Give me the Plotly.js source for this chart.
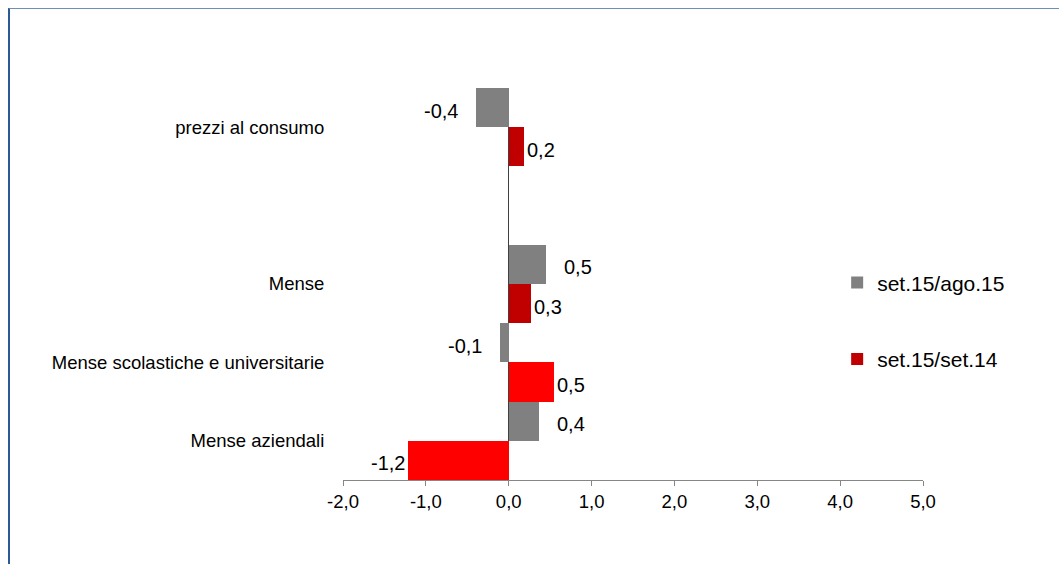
<!DOCTYPE html>
<html>
<head>
<meta charset="utf-8">
<script src="https://cdn.plot.ly/plotly-3.0.1.min.js"></script>
<style>
  html, body { margin: 0; padding: 0; background: #ffffff; }
  #wrap { position: relative; width: 1059px; height: 564px; }
  #chart { width: 1059px; height: 564px; }
  #frame { position: absolute; left: 8px; top: 8px; width: 1051px; height: 556px;
           border-top: 1px solid #6E8FB8; border-left: 2px solid #2B5A96;
           box-sizing: border-box; pointer-events: none; }
</style>
</head>
<body>
<div id="wrap">
  <div id="chart"></div>
  <div id="frame"></div>
</div>
<script>
// ---- data ----
const categories = ["prezzi al consumo", "", "Mense", "Mense scolastiche e universitarie", "Mense aziendali"];
const seriesNames = ["set.15/ago.15", "set.15/set.14"];
const valuesAgo = [-0.40, null, 0.45, -0.10, 0.36];
const valuesSet = [0.19, null, 0.27, 0.55, -1.21];
const labelsAgo = ["-0,4", "", "0,5", "-0,1", "0,4"];
const labelsSet = ["0,2", "", "0,3", "0,5", "-1,2"];
const xTickVals = [-2, -1, 0, 1, 2, 3, 4, 5];
const xTickText = ["-2,0", "-1,0", "0,0", "1,0", "2,0", "3,0", "4,0", "5,0"];

// ---- styles ----
const grayColor = "#808080";
const setColors = ["#C00000", "#C00000", "#C00000", "#FF0000", "#FF0000"];
const FONT = "Liberation Sans, Arial, Helvetica, sans-serif";

const yIdx = categories.map((_, i) => i);

const traces = [
  {
    type: "bar", orientation: "h", name: seriesNames[0],
    x: valuesAgo, y: yIdx,
    marker: { color: grayColor },
    legendgroup: "a", hoverinfo: "skip"
  },
  {
    type: "bar", orientation: "h", name: seriesNames[1],
    x: valuesSet, y: yIdx,
    marker: { color: setColors },
    legendgroup: "b", hoverinfo: "skip"
  }
];

// data labels derived from the arrays
const annotations = [];
function addLabels(vals, labels, yOff, shift) {
  vals.forEach((v, i) => {
    if (v === null) return;
    annotations.push({
      x: v, y: i + yOff, xref: "x", yref: "y",
      text: labels[i], showarrow: false,
      xanchor: v < 0 ? "right" : "left",
      xshift: v < 0 ? -shift : shift,
      yshift: -3,
      font: { family: FONT, size: 20, color: "#000000" }
    });
  });
}
addLabels(valuesAgo, labelsAgo, -0.25, 16);
addLabels(valuesSet, labelsSet, 0.25, 1);

const layout = {
  width: 1059, height: 564,
  margin: { l: 343, r: 136, t: 88, b: 84, pad: 0 },
  paper_bgcolor: "#ffffff", plot_bgcolor: "#ffffff",
  separators: ",.",
  barmode: "group", bargap: 0, bargroupgap: 0,
  font: { family: FONT, size: 18, color: "#000000" },
  showlegend: true,
  legend: {
    x: 0.852, xanchor: "left", y: 0.555, yanchor: "top",
    traceorder: "grouped", tracegroupgap: 46,
    font: { family: FONT, size: 21, color: "#000000" },
    bgcolor: "rgba(0,0,0,0)", borderwidth: 0
  },
  xaxis: {
    range: [-2, 5], tickvals: xTickVals, ticktext: xTickText,
    showgrid: false, zeroline: true, zerolinecolor: "#404040", zerolinewidth: 1,
    showline: true, linecolor: "#868686", linewidth: 1,
    ticks: "outside", ticklen: 5, tickcolor: "#868686",
    tickfont: { family: FONT, size: 18.5, color: "#000000" },
    fixedrange: true
  },
  yaxis: {
    range: [4.5, -0.5], tickvals: yIdx, ticktext: categories,
    showgrid: false, zeroline: false, showline: false,
    ticks: "outside", ticklen: 14, tickcolor: "rgba(0,0,0,0)",
    tickfont: { family: FONT, size: 18.5, color: "#000000" },
    fixedrange: true
  },
  annotations: annotations
};

Plotly.newPlot("chart", traces, layout, { displayModeBar: false, staticPlot: true });
</script>
</body>
</html>
